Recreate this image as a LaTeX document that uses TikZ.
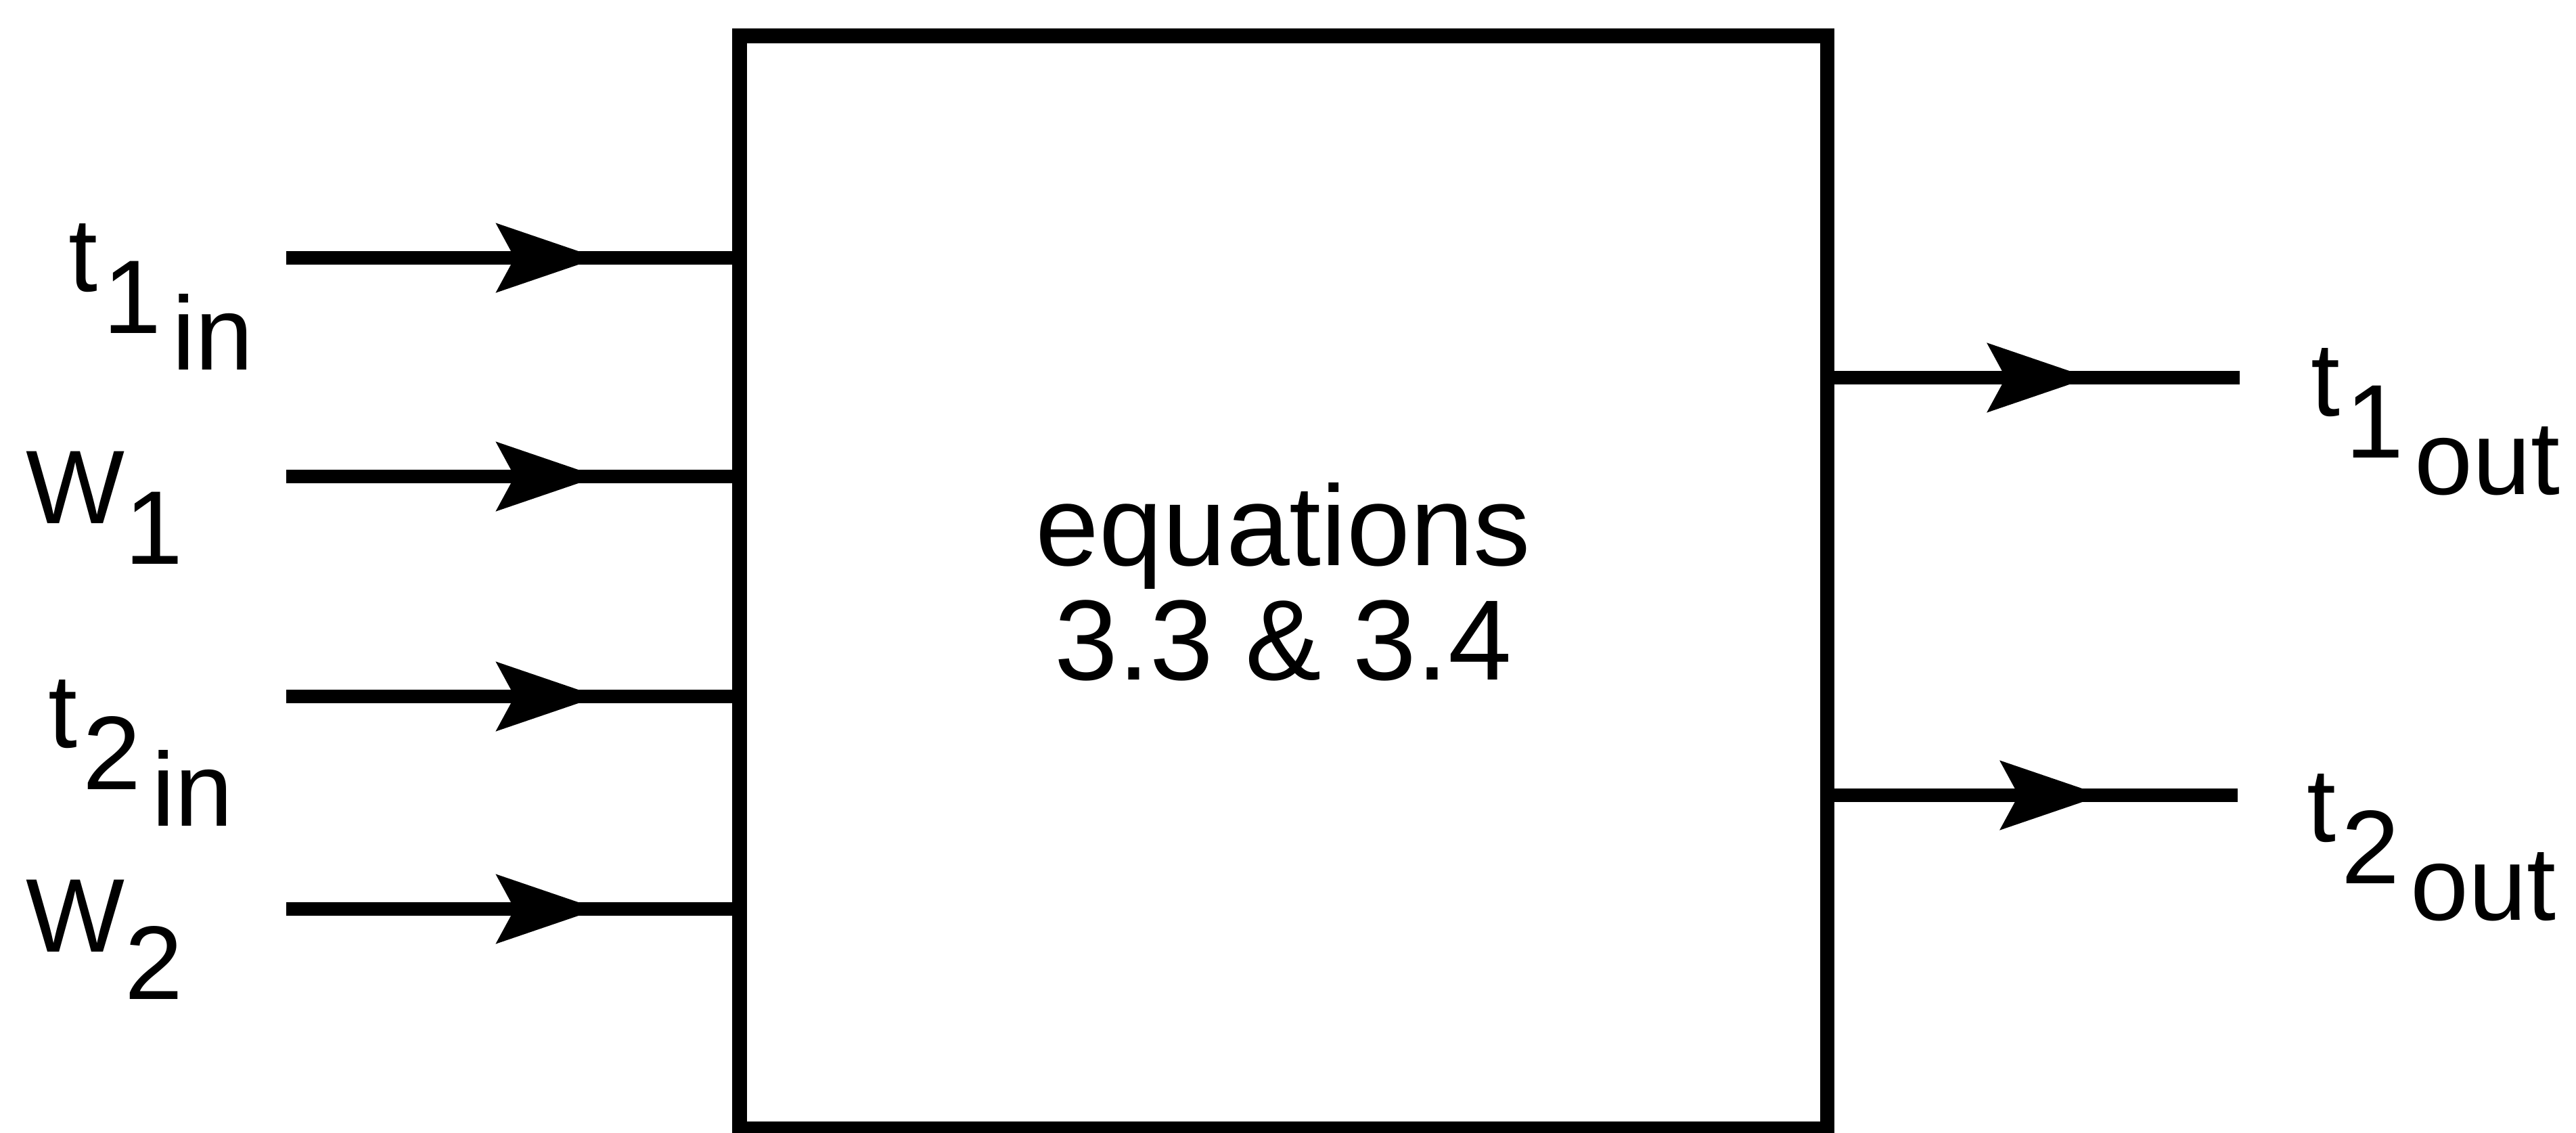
\documentclass[tikz,border=0pt]{standalone}
\usepackage{fontspec}
\setmainfont{Liberation Sans}
\usetikzlibrary{positioning}
\usetikzlibrary{arrows.meta}
\usetikzlibrary{decorations.markings}

\newcommand{\sublabel}[3]{#1\kern0.04cm\raisebox{-0.31cm}{#2\kern0.08cm\raisebox{-0.27cm}{#3}}}

\begin{document}
\begin{tikzpicture}[
    flow/.style={line width=2.8pt, postaction={decorate},
        decoration={markings, mark=at position #1 with {\arrow{Stealth[length=7.5mm, width=5mm, inset=1.3mm]}}}},
    lbl/.style={anchor=base west, inner sep=0pt, font=\fontsize{22}{24}\selectfont},
    block/.style={draw, line width=3pt, align=center, minimum width=8.035cm, minimum height=8.07cm, font=\fontsize{24}{24}\selectfont}
]
    \useasboundingbox (0,0) rectangle (19.035,-8.365);

    \node[block] (eq) at (9.4825,-4.30) {equations\\3.3 \& 3.4};

    \coordinate (in1) at (2.115,-1.905);
    \coordinate (in2) at (2.115,-3.52);
    \coordinate (in3) at (2.115,-5.145);
    \coordinate (in4) at (2.115,-6.715);
    \coordinate (out1) at (16.55,-2.79);
    \coordinate (out2) at (16.535,-5.875);

    \node[lbl] (t1in) at (0.5,-2.15) {\sublabel{t}{1}{in}};
    \node[lbl] (w1) at (0.185,-3.865) {W\raisebox{-0.3cm}{1}};
    \node[lbl] (t2in) at (0.35,-5.52) {\sublabel{t}{2}{in}};
    \node[lbl] (w2) at (0.185,-7.03) {W\raisebox{-0.35cm}{2}};
    \node[lbl] (t1out) at (17.07,-3.07) {\sublabel{t}{1}{out}};
    \node[lbl] (t2out) at (17.04,-6.215) {\sublabel{t}{2}{out}};

    \draw[flow=0.70] (in1) -- (in1 -| eq.west);
    \draw[flow=0.70] (in2) -- (in2 -| eq.west);
    \draw[flow=0.70] (in3) -- (in3 -| eq.west);
    \draw[flow=0.70] (in4) -- (in4 -| eq.west);
    \draw[flow=0.63] (out1 -| eq.east) -- (out1);
    \draw[flow=0.665] (out2 -| eq.east) -- (out2);

\end{tikzpicture}
\end{document}
